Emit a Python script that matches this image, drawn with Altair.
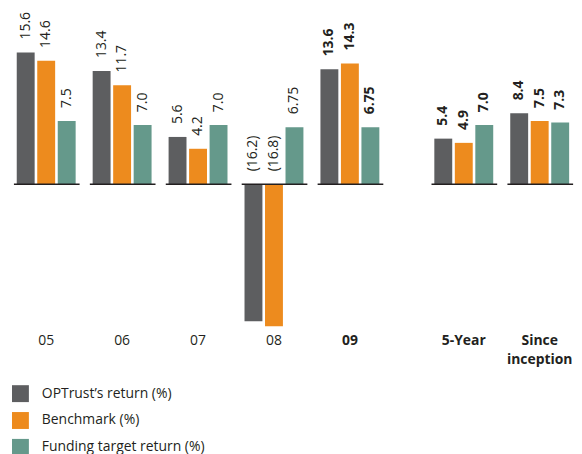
import altair as alt
import pandas as pd

groups = ["05", "06", "07", "08", "09", "5-Year", "Since inception"]
bold_groups = ["09", "5-Year", "Since inception"]
series = ["OPTrust’s return (%)", "Benchmark (%)", "Funding target return (%)"]
colors = ["#5d5e60", "#ed8b1e", "#65998b"]
optrust = [15.6, 13.4, 5.6, -16.2, 13.6, 5.4, 8.4]
benchmark = [14.6, 11.7, 4.2, -16.8, 14.3, 4.9, 7.5]
funding = [7.5, 7.0, 7.0, 6.75, 6.75, 7.0, 7.3]

FONT = "Open Sans"
INK = "#231f20"

# layout: gap of half a group before the cumulative columns
gpos = [i + (0.5 if i >= 5 else 0.0) for i in range(len(groups))]
OFF = 0.27

rows = []
for si, (s, vals) in enumerate(zip(series, [optrust, benchmark, funding])):
    for gi, g in enumerate(groups):
        v = vals[gi]
        lab = f"({abs(v)})" if v < 0 else f"{v}"
        rows.append(dict(group=g, series=s, value=v, zero=0.0, ly=max(v, 0.0),
                         label=lab, bold=1 if g in bold_groups else 0,
                         xpos=gpos[gi] + (si - 1) * OFF))
df = pd.DataFrame(rows)

gdf = pd.DataFrame(dict(
    line1=[g.split(" ")[0] for g in groups],
    line2=[" ".join(g.split(" ")[1:]) for g in groups],
    bold=[1 if g in bold_groups else 0 for g in groups],
    gx=gpos,
    zero=[0.0] * len(groups),
    x1=[p - 0.425 for p in gpos],
    x2=[p + 0.44 for p in gpos],
))

xs = alt.Scale(domain=[-0.4376, 6.847], nice=False, zero=False)
ys = alt.Scale(domain=[-30.82, 20.71], nice=False, zero=False)

bars = alt.Chart(df).mark_bar(size=18).encode(
    x=alt.X("xpos:Q", scale=xs, axis=None),
    y=alt.Y("value:Q", scale=ys, axis=None),
    y2="zero:Q",
    color=alt.Color("series:N",
                    scale=alt.Scale(domain=series, range=colors),
                    sort=series,
                    legend=alt.Legend(title=None, orient="none", legendX=4, legendY=378,
                                      direction="vertical", symbolType="square",
                                      symbolSize=289, symbolStrokeWidth=0,
                                      symbolOpacity=1,
                                      labelFontSize=14, labelFont=FONT,
                                      labelColor=INK, rowPadding=10,
                                      labelOffset=13, labelLimit=0, padding=0)),
)

base_lines = alt.Chart(gdf).mark_rule(color=INK, strokeWidth=1.5).encode(
    x=alt.X("x1:Q", scale=xs, axis=None),
    x2="x2:Q",
    y=alt.Y("zero:Q", scale=ys, axis=None),
)

def value_text(is_bold):
    return alt.Chart(df).transform_filter(
        f"datum.bold == {1 if is_bold else 0}"
    ).mark_text(
        angle=270, align="left", baseline="middle", dx=13,
        fontSize=14, font=FONT, color=INK,
        fontWeight="bold" if is_bold else "normal",
    ).encode(
        x=alt.X("xpos:Q", scale=xs, axis=None),
        y=alt.Y("ly:Q", scale=ys, axis=None),
        text="label:N",
    )

def cat_text(is_bold, field, ypx):
    return alt.Chart(gdf).transform_filter(
        f"datum.bold == {1 if is_bold else 0} && datum.{field} != ''"
    ).mark_text(
        align="center", baseline="alphabetic",
        fontSize=14, font=FONT, color=INK,
        fontWeight="bold" if is_bold else "normal",
    ).encode(
        x=alt.X("gx:Q", scale=xs, axis=None),
        y=alt.value(ypx),
        text=f"{field}:N",
    )

chart = alt.layer(
    bars, base_lines,
    value_text(False), value_text(True),
    cat_text(False, "line1", 338), cat_text(True, "line1", 338),
    cat_text(True, "line2", 357),
).properties(
    width=566, height=438, padding=0, background="white"
).configure_view(stroke=None)

chart.save("out.html", embed_options={"renderer": "svg", "actions": False})
